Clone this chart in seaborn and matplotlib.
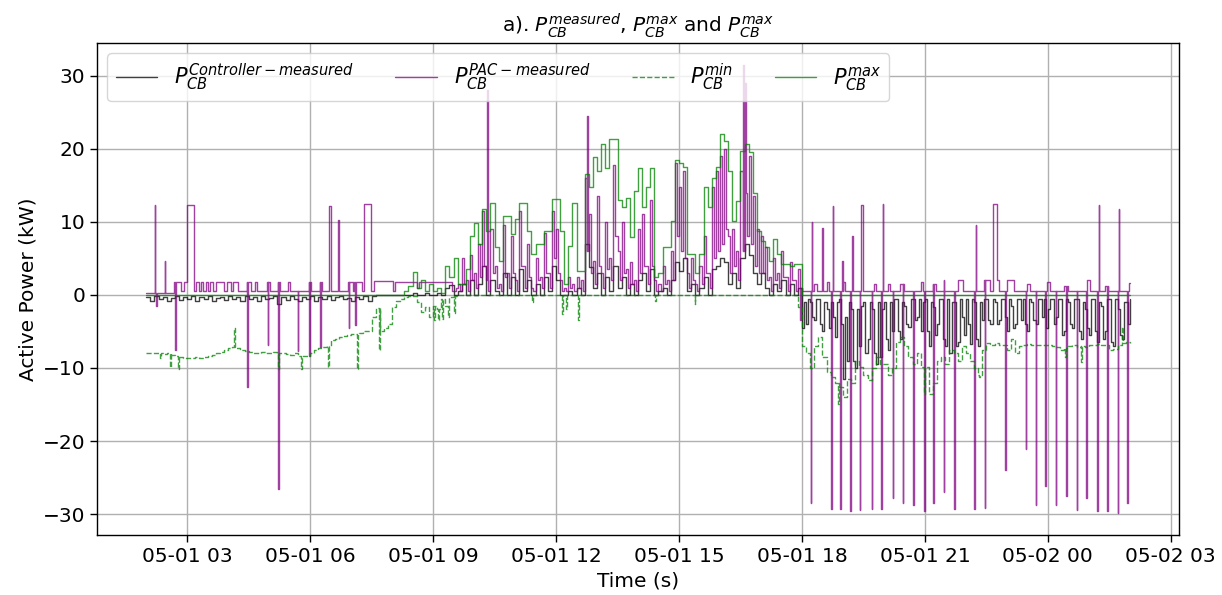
import numpy as np
import pandas as pd
import matplotlib
matplotlib.use("Agg")
import matplotlib.pyplot as plt
import matplotlib.dates as mdates
import seaborn as sns

start = pd.Timestamp("2019-05-01")

# 6-minute grid, hours after 05-01 00:00 (02:00 .. 02:00 next day)
hours = np.round(np.arange(20, 261) / 10, 1)

# controller measured power (kW), one row per hour
ctrl_v = [
    -0.3, -0.8, -0.2, -0.6, -0.3, -0.9, -0.4, -0.2, -0.7, -0.3,   # 02
    -0.5, -0.2, -0.8, -0.3, -0.6, -0.2, -0.9, -0.4, -0.3, -0.7,   # 03
    -0.2, -0.6, -0.3, -0.8, -0.2, -0.5, -0.3, -0.9, -0.2, -0.6,   # 04
    -0.4, -0.2, -1.2, -0.3, -0.7, -0.2, -0.5, -0.9, -0.3, -0.6,   # 05
    -0.2, -0.8, -0.3, -0.5, -0.2, -0.7, -0.3, -0.2, -0.6, -0.4,   # 06
    -0.8, -0.3, -0.5, -0.2, -0.9, -0.1, 0, 0, 0, 0,               # 07
    0, 0, 0, 0, 0, 0.3, 0, 0, 0.2, 0,                             # 08
    0, 0.3, 0, 1.0, 1.3, 0, 0.5, 1.5, 0, 2.0,                     # 09
    0, 1.5, 4.0, 0, 2.0, 0.5, 0, 3.0, 0, 2.5,                     # 10
    0, 3.5, 0.5, 2.0, 0, 1.5, 0, 2.5, 0.5, 4.0,                   # 11
    2.0, 0, 0, 0.5, 0, 1.0, 0, 7.0, 3.8, 1.0,                     # 12
    3.0, 0, 2.5, 0.5, 4.0, 1.0, 2.5, 0, 1.5, 0,                   # 13
    2.0, 3.0, 0.5, 3.5, 0, 0.5, 1.0, 0, 2.0, 4.5,                 # 14
    3.3, 5.0, 0.5, 1.5, 0, 1.0, 2.5, 0, 3.5, 4.0,                 # 15
    5.0, 4.5, 1.5, 3.0, 1.0, 5.0, 7.0, 5.5, 3.0, 1.5,             # 16
    3.0, 1.0, 0, 1.5, 0.5, 2.0, 0, 1.5, 0, 1.0,                   # 17
    -4.5, -4.0, -1.0, -3.5, -0.5, -5.0, -2.0, -1.0, -5.8, -0.5,   # 18
    -11.5, -9.0, -2.0, -10.0, -7.0, -1.0, -6.0, -2.0, -9.5, -8.5, # 19
    -1.0, -7.5, -5.0, -0.5, -6.0, -1.5, -4.4, -0.5, -3.0, -5.0,   # 20
    -0.5, -7.0, -1.7, -4.0, -0.5, -7.0, -8.0, -1.0, -6.5, -3.0,   # 21
    -0.5, -6.7, -1.0, -7.0, -3.5, -0.5, -4.0, -1.0, -3.5, -0.5,   # 22
    -5.0, -1.5, -4.0, -0.5, -0.5, -4.9, -1.0, -4.0, -0.5, -0.5,   # 23
    -2.0, -0.5, -3.0, -0.5, -5.0, -1.0, -4.5, -0.5, -6.0, -2.0,   # 00
    -5.5, -0.5, -6.5, -1.5, -5.0, -0.5, -7.0, -2.0, -6.0, -1.0,   # 01
    -0.5,
]
# evening controller values in the second half of each 6-min bin (18:00 .. 01:54)
ctrl_eve_lo = [
    -1.0, -0.5, -3.0, -0.5, -4.0, -1.0, -4.5, -3.0, -1.0, -4.0,
    -3.0, -1.0, -9.0, -2.0, -1.5, -8.0, -1.0, -8.0, -1.0, -2.0,
    -6.0, -1.0, -0.5, -5.0, -1.0, -4.0, -0.5, -3.5, -0.5, -1.0,
    -5.0, -1.0, -5.5, -0.5, -6.0, -0.5, -1.0, -7.0, -0.5, -5.5,
    -4.0, -0.5, -6.0, -1.0, -0.5, -3.5, -0.5, -4.0, -0.5, -3.0,
    -0.5, -4.5, -0.5, -3.5, -4.0, -0.5, -3.5, -0.5, -3.0, -4.5,
    -0.5, -4.0, -0.5, -5.5, -0.5, -4.0, -0.5, -5.0, -1.0, -4.5,
    -0.5, -5.0, -1.0, -6.0, -0.5, -6.5, -0.5, -5.5, -1.0, -4.0,
]

# lower limit P_min (kW)
min_v = [
    -7.9, -7.9, -8.0, -8.0, -8.1, -8.0, -8.2, -8.4, -8.5, -8.6,
    -8.6, -8.7, -8.5, -8.6, -8.5, -8.3, -8.2, -8.0, -7.8, -7.6,
    -7.3, -7.1, -7.3, -7.5, -7.7, -7.8, -7.9, -8.0, -7.8, -7.9,
    -8.0, -7.8, -7.9, -8.0, -8.1, -8.2, -8.0, -8.3, -8.4, -8.3,
    -8.0, -7.6, -7.3, -7.1, -7.0, -6.2, -6.0, -5.8, -5.6, -5.5,
    -5.4, -5.3, -5.2, -5.0, -4.9, -3.0, -1.8, -4.9, -4.5, -4.0,
    -1.7, -0.8, -0.5, -0.3, -0.1, -0.1, -1.0, -2.4, -1.7, -3.0,
    -1.5, -2.0, -0.5, -1.5, -0.3, -0.1, 0, 0, 0, 0,
    0, 0, 0, 0, 0, 0, 0, 0, 0, 0,
    0, 0, 0, 0, 0, 0, 0, 0, 0, 0,
    0, 0, 0, 0, 0, 0, 0, 0, 0, 0,
    0, 0, 0, 0, 0, 0, 0, 0, 0, 0,
    0, 0, 0, 0, 0, 0, 0, 0, 0, 0,
    0, 0, 0, 0, 0, 0, 0, 0, 0, 0,
    0, 0, 0, 0, 0, 0, 0, 0, 0, 0,
    0, 0, 0, 0, 0, 0, 0, 0, 0, -1.7,
    -7.0, -8.0, -10.0, -7.0, -5.8, -8.5, -10.5, -11.2, -12.0, -12.6,
    -14.0, -11.5, -12.0, -9.0, -9.9, -11.0, -11.7, -10.0, -8.5, -9.5,
    -9.4, -11.0, -10.0, -6.5, -5.8, -7.0, -8.5, -9.5, -8.0, -9.9,
    -11.0, -13.5, -12.0, -9.0, -8.5, -9.4, -7.5, -8.0, -9.0, -7.0,
    -8.0, -9.0, -10.0, -11.0, -7.5, -6.6, -6.8, -6.6, -6.9, -6.8,
    -7.5, -6.0, -8.0, -7.0, -6.8, -6.7, -6.8, -6.9, -6.8, -6.8,
    -6.9, -7.0, -7.2, -7.6, -7.3, -7.0, -6.9, -7.1, -7.0, -7.2,
    -6.8, -6.9, -6.7, -6.8, -6.9, -7.5, -7.4, -6.8, -6.6, -6.5,
    -6.6,
]
min_dip_t = [2.33, 2.57, 2.77, 4.13, 5.21, 5.78, 6.43, 7.15, 7.67, 9.02, 9.12,
             9.22, 9.36, 9.52, 11.42, 12.15, 12.25, 12.54, 14.41, 15.39, 18.87,
             20.98, 22.31, 24.42, 24.82, 25.82]
min_dip_v = [-8.7, -9.9, -10.2, -4.6, -10.1, -10.1, -9.9, -10.1, -7.6, -3.5, -3.5,
             -3.3, -3.0, -2.5, -1.0, -2.6, -2.0, -3.5, -0.8, -1.2, -14.9,
             -13.5, -11.2, -8.5, -9.2, -4.4]

# upper limit P_max (kW)
max_v = [
    0, 0, 0, 0, 0, 0, 0, 0, 0, 0,
    0, 0, 0, 0, 0, 0, 0, 0, 0, 0,
    0, 0, 0, 0, 0, 0, 0, 0, 0, 0,
    0, 0, 0, 0, 0, 0, 0, 0, 0, 0,
    0, 0, 0, 0, 0, 0, 0, 0, 0, 0,
    0, 0, 0, 0, 0, 0, 0, 0, 0, 0,
    0, 0, 0, 0.5, 1.2, 3.1, 1.0, 2.0, 0.5, 1.5,
    0.5, 1.0, 0.3, 3.9, 2.4, 5.1, 1.5, 1.5, 3.5, 8.1,
    9.9, 7.0, 11.7, 8.8, 12.6, 6.5, 4.7, 10.8, 10.8, 8.3,
    10.4, 12.6, 12.6, 8.8, 5.6, 7.0, 7.0, 8.8, 8.8, 13.1,
    13.1, 8.8, 1.5, 6.7, 12.6, 3.3, 3.3, 16.5, 14.7, 18.8,
    17.0, 20.6, 17.4, 21.3, 21.3, 13.0, 12.0, 13.3, 7.9, 14.2,
    17.4, 12.0, 14.7, 17.4, 2.4, 3.0, 6.5, 6.5, 10.1, 18.5,
    18.0, 17.5, 5.6, 5.6, 3.0, 5.6, 14.7, 12.0, 16.0, 17.5,
    22.0, 21.0, 17.0, 10.1, 12.9, 19.7, 20.6, 19.5, 14.0, 8.8,
    7.4, 6.5, 4.7, 7.6, 5.6, 4.2, 4.2, 4.0, 4.2, 4.2,
    0, 0, 0, 0, 0, 0, 0, 0, 0, 0,
    0, 0, 0, 0, 0, 0, 0, 0, 0, 0,
    0, 0, 0, 0, 0, 0, 0, 0, 0, 0,
    0, 0, 0, 0, 0, 0, 0, 0, 0, 0,
    0, 0, 0, 0, 0, 0, 0, 0, 0, 0,
    0, 0, 0, 0, 0, 0, 0, 0, 0, 0,
    0, 0, 0, 0, 0, 0, 0, 0, 0, 0,
    0, 0, 0, 0, 0, 0, 0, 0, 0, 0,
    0,
]

# PAC measured power: night steps, day on the 6-min grid, evening steps
pac_night_t = [2.00, 2.69, 2.86, 2.92, 3.00, 3.16, 3.22, 3.30, 3.34, 3.38, 3.46, 3.50,
               3.55, 3.63, 3.71, 3.91, 3.97, 4.07, 4.12, 4.24, 4.46, 4.56, 4.66, 4.70,
               4.95, 5.02, 5.21, 5.27, 5.46, 5.50, 5.96, 6.02, 6.23, 6.29, 6.46, 6.51,
               6.93, 7.04, 7.08, 7.26, 7.31, 7.49, 7.57, 8.02, 8.07, 8.42, 8.60, 8.65]
pac_night_v = [0.3, 1.7, 0.5, 1.7, 12.3, 0.5, 1.7, 0.5, 1.7, 0.5, 1.7, 0.5,
               1.7, 0.5, 1.7, 0.5, 1.7, 0.5, 1.7, 0.5, 1.7, 0.5, 1.7, 0.5,
               1.7, 0.5, 1.7, 0.5, 1.7, 0.5, 1.7, 0.5, 1.7, 0.5, 12.2, 0.5,
               1.7, 0.5, 1.7, 0.5, 12.4, 0.5, 1.9, 0.5, 1.8, 1.7, 1.0, 1.7]
# day: first half of each 6-min bin
pac_day_v = [
    1.7, 1.7, 1.7, 1.7, 1.7, 0.5, 1.5, 5.0, 2.0, 5.5,          # 09
    3.0, 7.0, 11.5, 2.0, 9.0, 4.0, 1.5, 9.5, 3.0, 8.0,         # 10
    2.0, 11.5, 4.0, 7.0, 1.0, 5.0, 2.5, 8.5, 3.0, 11.5,        # 11
    9.0, 2.0, 1.0, 2.5, 1.5, 2.5, 2.0, 16.0, 11.0, 4.7,        # 12
    13.5, 3.0, 10.0, 5.0, 17.8, 6.0, 10.0, 3.5, 4.5, 2.0,      # 13
    9.0, 11.0, 4.0, 13.0, 2.0, 1.5, 4.0, 2.0, 6.0, 18.0,       # 14
    14.7, 17.0, 3.0, 5.0, 1.5, 4.0, 8.0, 3.0, 14.7, 17.0,      # 15
    19.0, 20.0, 8.0, 9.0, 6.0, 17.0, 14.0, 19.0, 13.5, 9.0,    # 16
    8.0, 6.5, 2.4, 5.0, 3.0, 6.0, 2.5, 4.5, 2.0, 3.5,          # 17
]
# day: second half of each 6-min bin
pac_day_lo = [
    1.7, 1.7, 1.7, 1.7, 0.5, 1.0, 0.5, 1.5, 0.5, 2.0,
    1.0, 2.5, 4.0, 0.5, 3.0, 1.0, 0.5, 2.5, 1.0, 3.0,
    0.5, 4.0, 1.0, 2.5, 0.5, 2.0, 1.0, 3.0, 1.0, 5.0,
    3.0, 0.5, 0.5, 1.0, 0.5, 1.0, 0.5, 6.0, 3.0, 1.5,
    4.0, 1.0, 3.5, 2.0, 8.0, 2.0, 3.0, 1.0, 1.5, 0.5,
    3.0, 4.0, 1.5, 4.0, 0.5, 0.5, 1.5, 0.5, 2.0, 8.0,
    6.0, 5.0, 1.0, 2.0, 0.5, 1.5, 3.0, 1.0, 5.0, 6.0,
    7.0, 9.0, 3.0, 4.0, 2.0, 6.0, 8.0, 7.0, 4.0, 3.0,
    3.0, 2.0, 0.5, 2.0, 1.0, 2.5, 0.5, 2.0, 0.5, 1.0,
]
pac_eve_t = [18.00, 18.30, 18.36, 18.60, 18.66, 19.00, 19.05, 19.44, 19.50, 19.75,
             19.80, 20.10, 20.16, 20.40, 20.48, 20.90, 20.95, 21.20, 21.28, 21.47,
             21.52, 21.80, 21.92, 22.44, 22.60, 22.66, 22.75, 22.80, 23.00, 23.17,
             23.50, 23.56, 23.98, 24.05, 24.40, 24.50, 24.96, 25.02, 25.40, 25.48,
             25.97, 26.00]
pac_eve_v = [0.5, 1.5, 0.5, 1.7, 0.5, 1.7, 0.5, 12.3, 0.5, 1.5,
             0.5, 1.5, 0.5, 1.5, 0.5, 1.7, 0.5, 1.5, 0.5, 2.0,
             0.5, 2.0, 0.5, 2.0, 0.5, 12.4, 2.0, 0.5, 2.0, 0.5,
             1.5, 0.5, 1.7, 0.5, 1.2, 0.5, 2.0, 0.5, 1.2, 0.5,
             1.6, 1.6]
pac_spike_t = [2.21, 2.24, 2.45, 2.71, 4.47, 4.96, 5.22, 5.70, 5.97, 6.24, 6.69,
               6.94, 7.10, 10.32, 12.76, 16.57, 16.62, 17.96,
               18.24, 18.49, 18.75, 18.98, 19.22, 19.97, 22.24, 25.24, 25.73,
               18.21, 18.71, 18.94, 19.18, 19.41, 19.70, 19.94, 20.21, 20.46,
               20.72, 20.98, 21.21, 21.46, 21.71, 22.20, 22.46, 22.96, 23.46,
               23.70, 23.94, 24.19, 24.45, 24.70, 24.94, 25.20, 25.45, 25.70, 25.94]
pac_spike_v = [12.3, -1.5, 4.6, -7.6, -12.6, -6.8, -26.5, -7.7, -8.3, -7.2, 10.3,
               -4.6, -4.1, 28.0, 24.5, 31.4, 29.0, -3.5,
               10.0, 9.1, 12.2, 4.7, 8.0, 12.5, 9.5, 12.3, 11.7,
               -28.5, -29.3, -29.3, -29.6, -29.5, -29.3, -29.3, -27.8, -28.5,
               -28.7, -29.6, -28.5, -27.0, -29.3, -29.3, -29.2, -24.0, -21.1,
               -28.7, -26.2, -28.7, -27.5, -29.5, -27.8, -29.6, -29.6, -29.8, -28.5]


def merge(*parts):
    t = np.concatenate([np.asarray(p[0], float) for p in parts])
    v = np.concatenate([np.asarray(p[1], float) for p in parts])
    order = np.argsort(t, kind="stable")
    return t[order], v[order]


def add_spikes(t, v, spike_t, spike_v, width):
    st = np.asarray(spike_t, float)
    back = v[np.searchsorted(t, st, side="right") - 1]
    return merge((t, v), (st, spike_v), (st + width, back))


def to_time(h):
    return start + pd.to_timedelta(h, unit="h")


day_h = hours[70:160]
pac_t, pac_v = merge((pac_night_t, pac_night_v), (day_h, pac_day_v),
                     (day_h + 0.05, pac_day_lo), (pac_eve_t, pac_eve_v))
pac_t, pac_v = add_spikes(pac_t, pac_v, pac_spike_t, pac_spike_v, 0.015)
min_t, min_vals = add_spikes(hours, np.asarray(min_v, float), min_dip_t, min_dip_v, 0.025)
ctrl_t, ctrl_vals = merge((hours, ctrl_v), (hours[160:240] + 0.05, ctrl_eve_lo))

sns.set_theme(style="ticks", rc={"axes.grid": True, "grid.color": "#b0b0b0",
                                 "grid.linewidth": 1.0, "axes.edgecolor": "black",
                                 "axes.linewidth": 1.0, "text.color": "black",
                                 "axes.labelcolor": "black", "xtick.color": "black",
                                 "ytick.color": "black"})
plt.rcParams["font.family"] = ["DejaVu Sans"]

fig = plt.figure(figsize=(12.22, 5.95), dpi=100)
ax = fig.add_axes([0.0794, 0.1008, 0.8854, 0.8269])

step = dict(drawstyle="steps-post", estimator=None, linewidth=1.0, alpha=0.75, ax=ax)
sns.lineplot(x=to_time(ctrl_t), y=ctrl_vals, color="black",
             label=r"$P_{CB}^{Controller-measured}$", **step)
sns.lineplot(x=to_time(pac_t), y=pac_v, color="purple",
             label=r"$P_{CB}^{PAC-measured}$", **step)
sns.lineplot(x=to_time(min_t), y=min_vals, color="green", linestyle="--",
             label=r"$P_{CB}^{min}$", **step)
sns.lineplot(x=to_time(hours), y=max_v, color="green",
             label=r"$P_{CB}^{max}$", **step)

ax.xaxis.set_major_locator(mdates.HourLocator(byhour=range(0, 24, 3)))
ax.xaxis.set_major_formatter(mdates.DateFormatter("%m-%d %H"))
ax.tick_params(labelsize=14.5, length=5, width=1, colors="black")
ax.set_yticks([-30, -20, -10, 0, 10, 20, 30])
ax.set_xlabel("Time (s)", fontsize=14.5)
ax.set_ylabel("Active Power (kW)", fontsize=14.5)
ax.set_title(r"a). $P_{CB}^{measured}$, $P_{CB}^{max}$ and $P_{CB}^{max}$",
             fontsize=14.5, pad=8)
ax.legend(loc="upper left", ncol=4, fontsize=15)

fig.savefig("out.png", dpi=100)
